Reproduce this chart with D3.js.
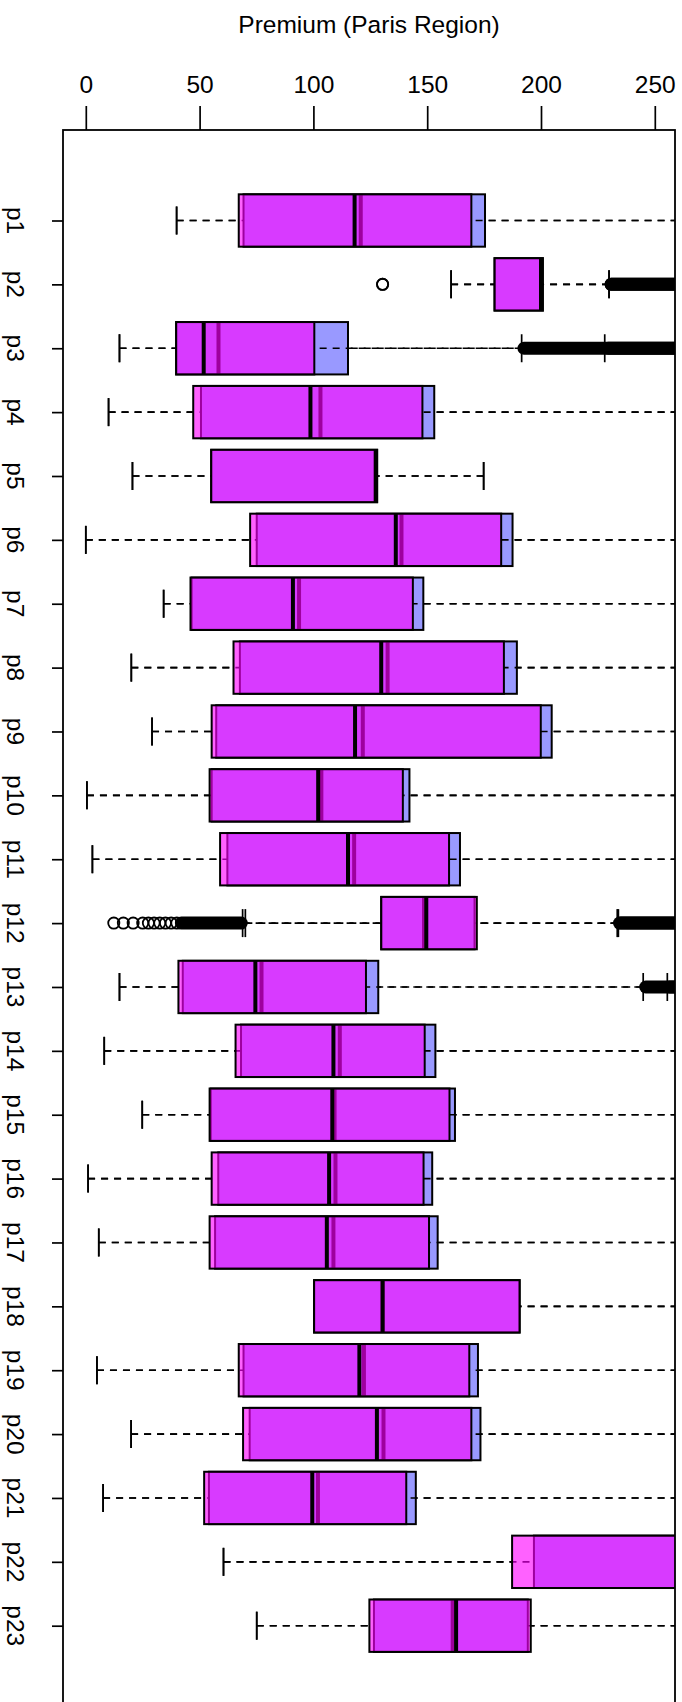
<!DOCTYPE html>
<html>
<head>
<meta charset="utf-8">
<script src="https://cdn.jsdelivr.net/npm/d3@7"></script>
<style>
  html, body { margin: 0; padding: 0; background: #fff; }
  svg { display: block; }
  text { font-family: "Liberation Sans", Arial, Helvetica, sans-serif; fill: #000; }
</style>
</head>
<body>
<svg id="chart" width="682" height="1702"></svg>
<script>
// ---------------- DATA ----------------
const title = "Premium (Paris Region)";
const categories = ["p1","p2","p3","p4","p5","p6","p7","p8","p9","p10","p11","p12",
                    "p13","p14","p15","p16","p17","p18","p19","p20","p21","p22","p23"];
const xTicks = [0, 50, 100, 150, 200, 250];

// Top layer (magenta) box statistics
const magentaLow    = [39.9,160.5,14.8,10.0,20.5,0.0,34.2,20.0,29.1,0.5,2.9,68.9,14.8,8.1,24.8,1.0,5.7,100.3,4.9,19.9,7.6,60.5,75.1];
const magentaQ1     = [67.2,179.6,39.7,47.2,55.1,72.2,46.0,64.9,55.3,54.4,59.0,129.8,40.7,65.8,54.4,55.3,54.4,100.3,67.2,69.1,52.0,187.3,124.6];
const magentaMedian = [118.1,200.0,51.8,98.7,127.4,136.2,91.0,129.8,118.3,102.1,115.2,149.6,74.5,108.8,108.3,106.9,105.9,130.4,120.2,127.9,99.5,280,162.7];
const magentaQ3     = [169.4,200.8,100.4,147.9,128.0,182.5,143.7,183.7,199.9,139.3,159.6,171.8,123.1,148.9,159.8,148.4,150.8,190.6,168.5,169.4,140.8,330,195.5];
const magentaHigh   = [300,229.9,191.5,300,174.8,300,300,300,300,300,300,233.5,244.9,300,300,300,300,300,300,300,300,400,300];
const magentaOutlierPoints = [["p2",130.4],["p12",12.3],["p12",16.5],["p12",20.8],["p12",25.0],["p12",27.5],
                              ["p12",30],["p12",32.5],["p12",35],["p12",37.5],["p12",40]];
const magentaOutlierRuns = [["p2",230.8,300],["p3",192.5,300],["p12",42,68.3],["p12",234.5,300],["p13",246,300]];

// Bottom layer (blue) box statistics
const blueLow    = [39.9,160.5,14.8,10.0,20.5,0.0,34.2,20.0,29.1,0.5,2.9,70.1,14.8,8.1,24.8,1.0,5.7,100.3,4.9,19.9,7.6,60.5,75.1];
const blueQ1     = [69.3,179.6,39.7,50.6,55.1,75.1,46.5,67.7,57.3,55.3,62.2,129.8,42.6,68.2,54.9,58.2,56.8,100.3,69.3,72.0,54.1,196.9,126.6];
const blueMedian = [120.8,200.0,58.3,103.1,127.4,138.7,93.7,132.6,121.7,103.5,117.9,148.6,77.2,111.6,109.3,109.7,108.8,130.4,122.2,130.8,102.0,285,161.2];
const blueQ3     = [175.4,200.8,115.2,153.1,128.0,187.5,148.3,189.4,204.7,142.2,164.4,170.8,128.5,153.6,162.2,152.2,154.6,190.6,172.3,173.4,145.0,335,194.2];
const blueHigh   = [300,229.9,228.0,300,174.8,300,300,300,300,300,300,234.0,255.5,300,300,300,300,300,300,300,300,400,300];
const blueOutlierPoints = [["p2",130.4]];
const blueOutlierRuns = [["p2",230.8,300],["p3",229.5,300],["p12",235,300],["p13",256.5,300]];

// ---------------- CHART ----------------
const svg = d3.select("#chart");
const plot = {left: 63, right: 675, top: 130, bottom: 1716};

const x = d3.scaleLinear().domain([0, 250]).range([85.8, 654.8]);
const y = d3.scalePoint().domain(categories).range([220.5, 1625.7]);
const step = y.step();
const boxHalf = step * 0.41;
const capHalf = 14;

svg.append("defs").append("clipPath").attr("id", "plotClip")
  .append("rect")
  .attr("x", plot.left).attr("y", plot.top)
  .attr("width", plot.right - plot.left).attr("height", plot.bottom - plot.top);

const g = svg.append("g").attr("clip-path", "url(#plotClip)");

function makeStats(low, q1, med, q3, high) {
  return categories.map((c, i) => ({cat: c, low: low[i], q1: q1[i], med: med[i], q3: q3[i], high: high[i]}));
}

function drawSeries(stats, fill, points, runs) {
  const layer = g.append("g");
  const dash = "7,6";
  // whiskers (dash pattern anchored at the whisker end)
  layer.append("g").selectAll("line").data(stats).join("line")
    .attr("x1", d => x(d.low)).attr("x2", d => x(d.q1))
    .attr("y1", d => y(d.cat)).attr("y2", d => y(d.cat))
    .attr("stroke", "#000").attr("stroke-width", 1.6).attr("stroke-dasharray", dash);
  layer.append("g").selectAll("line").data(stats).join("line")
    .attr("x1", d => x(d.high)).attr("x2", d => x(d.q3))
    .attr("y1", d => y(d.cat)).attr("y2", d => y(d.cat))
    .attr("stroke", "#000").attr("stroke-width", 1.6).attr("stroke-dasharray", dash);
  // staples
  ["low", "high"].forEach(k => {
    layer.append("g").selectAll("line").data(stats).join("line")
      .attr("x1", d => x(d[k])).attr("x2", d => x(d[k]))
      .attr("y1", d => y(d.cat) - capHalf).attr("y2", d => y(d.cat) + capHalf)
      .attr("stroke", "#000").attr("stroke-width", 1.7);
  });
  // boxes
  layer.append("g").selectAll("rect").data(stats).join("rect")
    .attr("x", d => x(d.q1)).attr("width", d => x(d.q3) - x(d.q1))
    .attr("y", d => y(d.cat) - boxHalf).attr("height", 2 * boxHalf)
    .attr("fill", fill).attr("stroke", "#000").attr("stroke-width", 2);
  // medians
  layer.append("g").selectAll("line").data(stats).join("line")
    .attr("x1", d => x(d.med)).attr("x2", d => x(d.med))
    .attr("y1", d => y(d.cat) - boxHalf).attr("y2", d => y(d.cat) + boxHalf)
    .attr("stroke", "#000").attr("stroke-width", 4);
  // dense outlier runs (overlapping open circles)
  layer.append("g").selectAll("line").data(runs).join("line")
    .attr("x1", d => x(d[1])).attr("x2", d => x(d[2]))
    .attr("y1", d => y(d[0])).attr("y2", d => y(d[0]))
    .attr("stroke", "#000").attr("stroke-width", 13).attr("stroke-linecap", "round");
  // individual outliers
  layer.append("g").selectAll("circle").data(points).join("circle")
    .attr("cx", d => x(d[1])).attr("cy", d => y(d[0])).attr("r", 5.6)
    .attr("fill", "none").attr("stroke", "#000").attr("stroke-width", 1.8);
}

drawSeries(makeStats(blueLow, blueQ1, blueMedian, blueQ3, blueHigh),
           "rgba(0,0,255,0.4)", blueOutlierPoints, blueOutlierRuns);
drawSeries(makeStats(magentaLow, magentaQ1, magentaMedian, magentaQ3, magentaHigh),
           "rgba(255,0,255,0.62)", magentaOutlierPoints, magentaOutlierRuns);

// plot frame
svg.append("rect")
  .attr("x", plot.left).attr("y", plot.top)
  .attr("width", plot.right - plot.left).attr("height", plot.bottom - plot.top)
  .attr("fill", "none").attr("stroke", "#000").attr("stroke-width", 1.8);

// top axis
const xAxis = d3.axisTop(x).tickValues(xTicks).tickSize(24).tickPadding(13).tickFormat(d3.format("d"));
const ax = svg.append("g").attr("transform", `translate(0,${plot.top})`).call(xAxis);
ax.select(".domain").remove();
ax.selectAll(".tick line").attr("stroke", "#000").attr("stroke-width", 1.7);
ax.selectAll(".tick text").attr("font-size", 24.5)
  .attr("font-family", "'Liberation Sans', Arial, Helvetica, sans-serif").attr("fill", "#000");

// left category axis
const yAxis = d3.axisLeft(y).tickSize(11).tickFormat(() => "");
const ay = svg.append("g").attr("transform", `translate(${plot.left},0)`).call(yAxis);
ay.select(".domain").remove();
ay.selectAll(".tick line").attr("stroke", "#000").attr("stroke-width", 1.7);

svg.append("g").selectAll("text").data(categories).join("text")
  .attr("transform", d => `translate(15,${y(d)}) rotate(90)`)
  .attr("text-anchor", "middle").attr("dominant-baseline", "central")
  .attr("font-size", 24.5)
  .text(d => d);

// title
svg.append("text").attr("x", 369).attr("y", 33).attr("text-anchor", "middle")
  .attr("font-size", 24.5).text(title);
</script>
</body>
</html>
